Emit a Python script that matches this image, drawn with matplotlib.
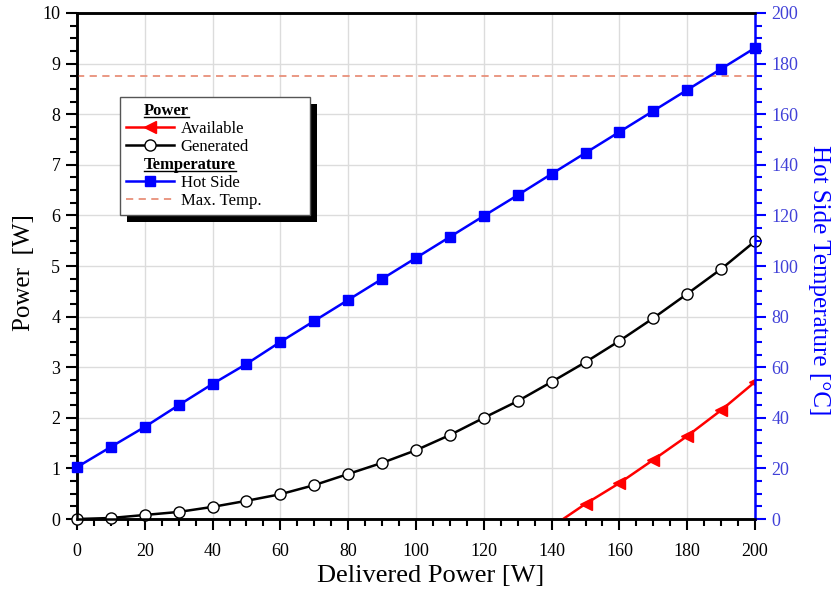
import matplotlib
matplotlib.use("Agg")
import matplotlib.pyplot as plt
from matplotlib.lines import Line2D
from matplotlib.patches import Rectangle
from matplotlib.ticker import MultipleLocator
import matplotlib.transforms as mtransforms

plt.rcParams['font.family'] = ['Liberation Serif', 'DejaVu Serif']

delivered = [0, 10, 20, 30, 40, 50, 60, 70, 80, 90, 100, 110, 120, 130, 140, 150, 160, 170, 180, 190, 200]
generated = [0.0, 0.02, 0.08, 0.14, 0.24, 0.36, 0.49, 0.67, 0.89, 1.11, 1.36, 1.66, 2.0, 2.33, 2.71, 3.1, 3.52, 3.97, 4.45, 4.94, 5.49]
hot_side = [20.5, 28.5, 36.4, 45.0, 53.4, 61.3, 70.0, 78.3, 86.6, 94.9, 103.2, 111.5, 119.8, 128.0, 136.4, 144.7, 153.0, 161.3, 169.6, 177.9, 186.2]
avail_x = [143.4, 150, 160, 170, 180, 190, 200]
available = [0.0, 0.3, 0.71, 1.17, 1.64, 2.15, 2.71]
max_temp = 175

fig = plt.figure(figsize=(8.33, 5.90), dpi=100)
ax = fig.add_axes([0.0924, 0.1203, 0.8140, 0.8577])
ax2 = ax.twinx()

ax.set_xlim(0, 200)
ax.set_ylim(0, 10)
ax2.set_ylim(0, 200)

ax.grid(True, which='major', color='#dcdcdc', linewidth=1.0)
ax.set_axisbelow(True)

la, = ax.plot(avail_x, available, color='red', lw=1.8, marker='<', ms=8,
              markevery=list(range(1, len(avail_x))), zorder=3)
lg, = ax.plot(delivered, generated, color='black', lw=1.8, marker='o', ms=8,
              mfc='white', mec='black', mew=1.0, zorder=3, clip_on=False)
lh, = ax2.plot(delivered, hot_side, color='blue', lw=1.8, marker='s', ms=6.5,
               zorder=3, clip_on=False)
lm = ax2.axhline(max_temp, color='#e8907a', lw=1.3, ls=(0, (4, 3)))

ax.xaxis.set_major_locator(MultipleLocator(20))
ax.xaxis.set_minor_locator(MultipleLocator(5))
ax.yaxis.set_major_locator(MultipleLocator(1))
ax.yaxis.set_minor_locator(MultipleLocator(0.25))
ax2.yaxis.set_major_locator(MultipleLocator(20))
ax2.yaxis.set_minor_locator(MultipleLocator(5))

ax.tick_params(axis='x', which='major', direction='out', length=8, width=1.5, labelsize=13, pad=9)
ax.tick_params(axis='x', which='minor', direction='out', length=5, width=1.5)
ax.tick_params(axis='y', which='major', direction='out', length=8, width=1.5, labelsize=13, pad=4)
ax.tick_params(axis='y', which='minor', direction='out', length=5, width=1.5)
ax2.tick_params(axis='y', which='major', direction='out', length=8, width=1.5, labelsize=13,
                colors='blue', labelcolor='#4040d8', pad=4)
ax2.tick_params(axis='y', which='minor', direction='out', length=5, width=1.5, colors='blue')

for s in ['left', 'bottom', 'top']:
    ax.spines[s].set_linewidth(1.8)
    ax2.spines[s].set_linewidth(1.8)
ax2.spines['right'].set_linewidth(1.8)
ax2.spines['right'].set_color('blue')
ax.spines['right'].set_visible(False)

ax.set_xlabel('Delivered Power [W]', fontsize=19)
ax.xaxis.set_label_coords(0.522, -0.091)
ax.set_ylabel('Power  [W]', fontsize=18)
ax.yaxis.set_label_coords(-0.062, 0.488)
ax2.set_ylabel('Hot Side Temperature [°C]', fontsize=18, color='blue', rotation=270)
ax2.yaxis.set_label_coords(1.111, 0.472)

blank = Line2D([], [], color='none')
handles = [blank, la, lg, blank, lh, lm]
labels = ['Power', 'Available', 'Generated', 'Temperature', 'Hot Side', 'Max. Temp.']
leg = ax2.legend(handles, labels, loc='upper left', bbox_to_anchor=(0.0634, 0.834, 0.28, 0.0),
                 mode='expand', fontsize=12, frameon=True, fancybox=False, handlelength=2.9,
                 handletextpad=0.4, labelspacing=0.12, borderpad=0.35,
                 borderaxespad=0.0, framealpha=1.0)
leg.get_frame().set_edgecolor('#555555')
leg.get_frame().set_linewidth(1.0)
leg.set_zorder(10)
texts = leg.get_texts()
for i in (0, 3):
    texts[i].set_fontweight('bold')

fig.canvas.draw()
r = fig.canvas.get_renderer()
lb = leg.get_window_extent(r)
for i in (0, 3):
    t = texts[i]
    bb = t.get_window_extent(r)
    dx = bb.x0 - (lb.x0 + 24)
    t.set_transform(t.get_transform() + mtransforms.Affine2D().translate(-dx, 0))
fig.canvas.draw()
for i in (0, 3):
    bb = texts[i].get_window_extent(r)
    ax2.add_artist(Line2D([bb.x0, bb.x1], [bb.y0 + 2, bb.y0 + 2], color='black', lw=1.0,
                          transform=mtransforms.IdentityTransform(), zorder=11, clip_on=False))

lb = leg.get_window_extent(r)
shadow = Rectangle((lb.x0 + 7, lb.y0 - 7), lb.width, lb.height,
                   transform=mtransforms.IdentityTransform(),
                   facecolor='black', edgecolor='none', zorder=9, clip_on=False)
ax2.add_artist(shadow)

fig.savefig('out.png', dpi=100)
